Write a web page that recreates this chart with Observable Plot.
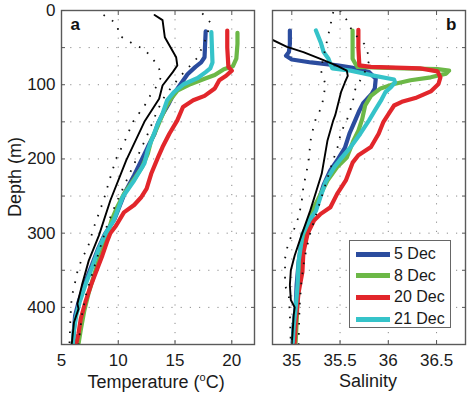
<!DOCTYPE html>
<html><head><meta charset="utf-8">
<script src="https://cdn.jsdelivr.net/npm/d3@7"></script>
<script src="https://cdn.jsdelivr.net/npm/@observablehq/plot@0.6"></script>
<style>
body{margin:0;background:#fff;font-family:"Liberation Sans",Arial,sans-serif;color:#1a1a1a;}
#wrap{position:relative;width:474px;height:396px;overflow:hidden;}
#wrap > svg{position:absolute;top:0;}
.lab{position:absolute;font-size:18px;white-space:nowrap;line-height:1;}
.lab sup{font-size:11px;vertical-align:7px;}
#legend{position:absolute;left:349px;top:240px;width:102px;height:88px;border:1px solid #666;background:#fff;box-sizing:border-box;}
.lrow{position:absolute;left:6px;height:20px;display:flex;align-items:center;font-size:16px;}
.lsw{width:34px;height:5px;margin-right:4px;}
</style></head><body>
<div id="wrap"></div>
<script>
// ---------- data: [value, depth (m)] ----------
const seriesNames = ["5 Dec", "8 Dec", "20 Dec", "21 Dec"];
const seriesColors = ["#2b4c9e", "#6cb847", "#e2262b", "#35c3c9"];

const tempTicks = [5, 10, 15, 20];
const salTicks = [35, 35.5, 36, 36.5];
const depthLabelTicks = [0, 100, 200, 300, 400];
const depthTicks = [0, 50, 100, 150, 200, 250, 300, 350, 400, 450];
const depthGrid = [50, 100, 150, 200, 250, 300, 350, 400];

// Temperature panel
const tMean = [[13.2,6],[13.9,13],[14.1,36],[15.1,63],[15.2,74],[14.8,83],[13.9,101],[13.6,119],[12.3,150],[10.7,202],[9.3,256],[8.3,303],[7.4,337],[6.8,370],[6.4,395],[6.5,402],[6.1,420],[5.9,450]];
const tCool = [[8.7,6],[9.3,11],[9.9,20],[10.1,34],[10.8,40],[11.5,47],[12.3,52],[12.9,63],[13.5,74],[13.8,88],[13.5,100],[12.9,112],[12.5,124],[11.9,137],[11.3,150],[10.6,175],[9.8,200],[9.2,230],[8.7,256],[7.9,290],[7.3,320],[6.8,334],[6.4,352],[6.1,373],[5.9,386],[5.8,410],[5.7,450]];
const tWarm = [[17.4,4],[18.1,16],[17.8,35],[17.0,63],[16.6,70],[15.5,88],[14.6,105],[13.9,120],[13.3,140],[12.5,170],[11.6,200],[10.7,230],[9.8,260],[9.0,290],[8.4,320],[7.8,350],[7.2,380],[6.8,410],[6.5,450]];
const t5Dec = [[17.7,28],[17.65,45],[17.6,63],[17.3,70],[16.8,76],[16.1,86],[15.5,99],[14.9,112],[14.4,127],[13.9,140],[13.5,152],[13.2,166],[12.6,184],[12.1,200],[11.4,222],[10.6,245],[9.7,280],[8.8,302],[8.2,322],[7.6,346],[7.0,370],[6.5,393],[6.2,411],[6.1,430],[6.0,449]];
const t8Dec = [[20.5,30],[20.5,45],[20.4,65],[20.1,75],[19.3,79],[18.5,87],[17.6,92],[16.4,99],[15.2,108],[14.6,120],[14.2,130],[13.8,144],[13.5,155],[12.9,175],[12.6,193],[12.1,211],[11.5,225],[10.5,247],[9.9,265],[9.4,283],[8.9,310],[8.3,335],[7.9,355],[7.4,380],[7.0,405],[6.7,430],[6.5,449]];
const t20Dec = [[19.6,27],[19.6,50],[19.7,76],[20.0,81],[19.5,88],[18.9,94],[18.5,105],[17.6,115],[16.6,121],[15.7,130],[15.2,148],[14.5,166],[13.9,184],[13.5,198],[12.9,220],[12.5,240],[12.0,252],[11.4,262],[10.5,272],[9.8,290],[9.3,300],[9.0,312],[8.6,330],[8.2,346],[7.6,370],[7.1,393],[6.7,415],[6.5,435],[6.3,449]];
const t21Dec = [[18.2,29],[18.25,50],[18.3,70],[18.1,78],[17.7,83],[17.0,91],[15.8,99],[14.9,110],[14.3,121],[13.9,139],[13.5,152],[13.1,168],[12.6,188],[12.3,206],[11.4,229],[10.4,251],[9.6,283],[8.9,300],[8.3,320],[7.7,346],[7.1,370],[6.6,393],[6.3,411],[6.1,430],[6.0,449]];

// Salinity panel
const sMean = [[34.79,39],[34.95,49],[35.12,56],[35.29,65],[35.46,74],[35.57,81],[35.58,88],[35.55,97],[35.51,110],[35.45,141],[35.43,148],[35.37,175],[35.31,220],[35.19,270],[35.10,303],[35.03,330],[34.99,350],[34.98,370],[34.99,390],[35.03,400],[35.02,410],[35.01,430],[35.0,449]];
const sFresh = [[35.43,2],[35.4,20],[35.35,50],[35.3,80],[35.35,100],[35.33,115],[35.31,130],[35.25,145],[35.2,170],[35.17,206],[35.12,238],[35.1,260],[35.07,278],[35.02,296],[34.96,315],[34.93,334],[34.93,352],[34.93,370],[34.97,386],[34.98,410],[34.99,450]];
const sSalty = [[35.5,0],[35.57,13],[35.63,29],[35.75,45],[35.81,65],[35.75,85],[35.66,105],[35.63,124],[35.6,137],[35.57,148],[35.51,164],[35.48,182],[35.42,205],[35.36,230],[35.3,255],[35.24,280],[35.18,305],[35.13,335],[35.1,365],[35.08,400],[35.07,450]];
const s5Dec = [[34.98,27],[34.98,45],[34.97,56],[34.94,61],[35.0,66],[35.2,70],[35.47,74],[35.62,77],[35.8,83],[35.87,92],[35.86,105],[35.83,112],[35.74,125],[35.7,135],[35.65,150],[35.6,165],[35.55,185],[35.48,200],[35.4,215],[35.33,235],[35.28,255],[35.22,275],[35.16,290],[35.11,303],[35.07,340],[35.05,370],[35.04,400],[35.02,425],[35.01,447]];
const s8Dec = [[35.63,27],[35.63,45],[35.63,65],[35.66,72],[35.68,76],[36.16,78],[36.51,79],[36.63,81],[36.6,85],[36.44,90],[36.23,94],[36.06,99],[35.92,105],[35.82,115],[35.76,128],[35.73,146],[35.69,162],[35.64,175],[35.57,198],[35.47,211],[35.37,229],[35.3,247],[35.23,265],[35.17,285],[35.13,303],[35.1,330],[35.08,360],[35.06,390],[35.05,420],[35.04,447]];
const s20Dec = [[35.69,26],[35.69,50],[35.7,74],[35.82,76],[36.33,78],[36.51,82],[36.54,90],[36.52,99],[36.44,109],[36.28,118],[36.14,123],[36.06,128],[36.0,140],[35.95,150],[35.9,166],[35.82,184],[35.69,195],[35.63,205],[35.56,229],[35.47,247],[35.4,265],[35.3,274],[35.23,283],[35.18,296],[35.16,303],[35.12,326],[35.11,352],[35.07,380],[35.06,393],[35.04,420],[35.03,447]];
const s21Dec = [[35.25,27],[35.3,43],[35.33,56],[35.38,65],[35.4,72],[35.42,78],[35.61,81],[35.82,87],[36.06,93],[36.07,97],[36.03,103],[35.97,110],[35.93,120],[35.86,135],[35.8,148],[35.71,166],[35.61,184],[35.52,198],[35.44,211],[35.35,231],[35.3,250],[35.25,270],[35.18,283],[35.11,302],[35.07,339],[35.06,370],[35.04,401],[35.02,424],[35.01,447]];

// ---------- drawing ----------
const fontFamily = '"Liberation Sans", Arial, sans-serif';
const style = {fontFamily, fontSize: "17px", color: "#1a1a1a", background: "transparent", overflow: "visible"};
const gridStyle = {stroke: "#8c8c8c", strokeOpacity: 1, strokeWidth: 1, strokeDasharray: "1.2,8"};
const lineOpts = (color, w) => ({x: d => d[0], y: d => d[1], stroke: color, strokeWidth: w, strokeLinejoin: "round", strokeLinecap: "round", clip: true});
const dotOpts = {x: d => d[0], y: d => d[1], stroke: "#111", strokeWidth: 1.8, strokeDasharray: "1.6,8.5", strokeLinecap: "butt", clip: true};
const tickStyle = {stroke: "#555", label: null, tickFormat: () => ""};

function panel({width, marginLeft, marginRight, xDomain, xTicks, xGrid, profiles, mean, dots, letter, letterRight, yLabels}) {
  const marks = [
    Plot.gridX(xGrid, gridStyle),
    Plot.gridY(depthGrid, gridStyle),
    ...profiles.map((p, i) => Plot.line(p, lineOpts(seriesColors[i], 4.2))),
    Plot.line(mean, lineOpts("#000", 1.9)),
    ...dots.map(p => Plot.line(p, dotOpts)),
    Plot.frame({stroke: "#5a5a5a", strokeWidth: 1.4}),
    Plot.axisX(xTicks, {anchor: "bottom", tickSize: 0, tickPadding: 9, label: null, tickFormat: d => String(d), fontSize: 17}),
    Plot.axisX(xTicks, {anchor: "bottom", tickSize: -4, ...tickStyle}),
    Plot.axisX(xTicks, {anchor: "top", tickSize: -4, ...tickStyle}),
    Plot.axisY(depthTicks, {anchor: "left", tickSize: -4, ...tickStyle}),
    Plot.axisY(depthTicks, {anchor: "right", tickSize: -4, ...tickStyle}),
    Plot.text([letter], {frameAnchor: letterRight ? "top-right" : "top-left", dx: letterRight ? -9 : 9, dy: 7, fontWeight: "bold", fontSize: 17, lineAnchor: "top", fill: "#111"})
  ];
  if (yLabels) marks.push(Plot.axisY(depthLabelTicks, {anchor: "left", tickSize: 0, tickPadding: 6, label: null, fontSize: 17}));
  return Plot.plot({
    width, height: 396, marginLeft, marginRight, marginTop: 10, marginBottom: 52,
    style,
    x: {domain: xDomain},
    y: {domain: [0, 450], reverse: true},
    marks
  });
}

const wrap = document.getElementById("wrap");
const pa = panel({width: 258, marginLeft: 61, marginRight: 4, xDomain: [5, 22], xTicks: tempTicks, xGrid: [10, 15, 20],
  profiles: [t5Dec, t8Dec, t20Dec, t21Dec], mean: tMean, dots: [tCool, tWarm], letter: "a", letterRight: false, yLabels: true});
pa.style.left = "0px";
wrap.appendChild(pa);
const pb = panel({width: 216, marginLeft: 14, marginRight: 9, xDomain: [34.8, 36.8], xTicks: salTicks, xGrid: salTicks,
  profiles: [s5Dec, s8Dec, s20Dec, s21Dec], mean: sMean, dots: [sFresh, sSalty], letter: "b", letterRight: true, yLabels: false});
pb.style.left = "258px";
wrap.appendChild(pb);

function label(html, cx, cy, rotate) {
  const d = document.createElement("div");
  d.className = "lab";
  d.innerHTML = html;
  wrap.appendChild(d);
  const w = d.offsetWidth, h = d.offsetHeight;
  d.style.left = (cx - w / 2) + "px";
  d.style.top = (cy - h / 2) + "px";
  if (rotate) d.style.transform = "rotate(-90deg)";
}
label("Depth (m)", 15, 177, true);
label("Temperature (<sup>o</sup>C)", 156, 381, false);
label("Salinity", 368, 381, false);

const legend = document.createElement("div");
legend.id = "legend";
seriesNames.forEach((name, i) => {
  const r = document.createElement("div");
  r.className = "lrow";
  r.style.top = (3 + i * 21.7) + "px";
  r.innerHTML = `<span class="lsw" style="background:${seriesColors[i]}"></span><span>${name}</span>`;
  legend.appendChild(r);
});
wrap.appendChild(legend);
</script>
</body></html>
